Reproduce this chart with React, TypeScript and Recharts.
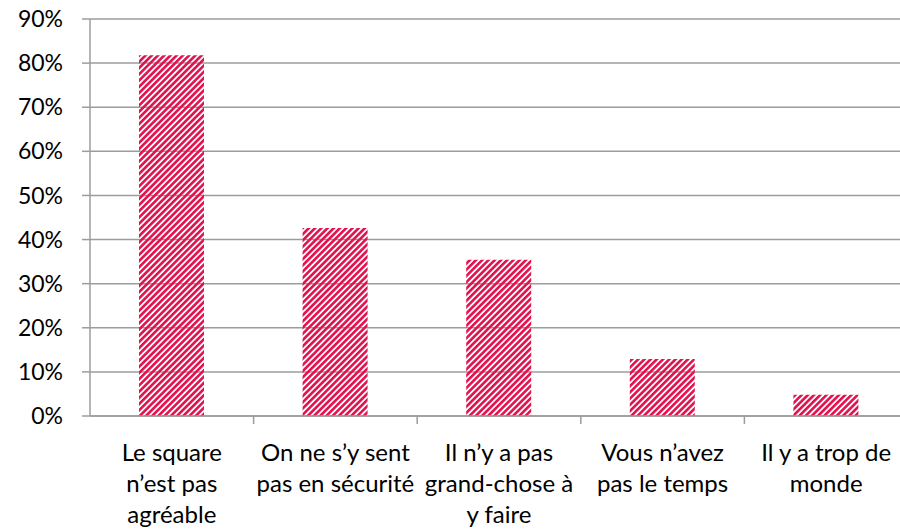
import { BarChart, Bar, XAxis, YAxis, CartesianGrid } from "recharts";

const categoryLines = [
  ["Le square", "n’est pas", "agréable"],
  ["On ne s’y sent", "pas en sécurité"],
  ["Il n’y a pas", "grand-chose à", "y faire"],
  ["Vous n’avez", "pas le temps"],
  ["Il y a trop de", "monde"],
];
const shares = [0.818, 0.426, 0.354, 0.129, 0.048];
const percentTicks = [0, 0.1, 0.2, 0.3, 0.4, 0.5, 0.6, 0.7, 0.8, 0.9];

const chartData = categoryLines.map((lines, i) => ({
  label: lines.join(" "),
  share: shares[i],
}));

const CHART_W = 908;
const Y_AXIS_W = 90;
const HALF_BAND = (CHART_W - Y_AXIS_W) / categoryLines.length / 2;

const FONT = "Lato, 'Open Sans', sans-serif";
const AXIS_GREY = "#9c9c9c";
const STRIPE = "#e2124f";

function CategoryTick(props: any) {
  const { x, y, payload } = props;
  const lines = categoryLines[payload.index] || [payload.value];
  return (
    <g>
      <line x1={x + HALF_BAND} x2={x + HALF_BAND} y1={y} y2={y + 8} stroke={AXIS_GREY} strokeWidth={1.5} />
      <text x={x} y={y} textAnchor="middle" fill="#000" fontFamily={FONT} fontSize={24}>
        {lines.map((line: string, i: number) => (
          <tspan key={i} x={x} y={y + 45 + i * 31}>
            {line}
          </tspan>
        ))}
      </text>
    </g>
  );
}

export default function App() {
  return (
    <div style={{ position: "absolute", left: 0, top: 0, width: 900, height: 530, overflow: "hidden", background: "#fff" }}>
      <BarChart
        width={CHART_W}
        height={530}
        data={chartData}
        margin={{ top: 19, right: 0, bottom: 0, left: 0 }}
      >
        <defs>
          <pattern id="stripes" patternUnits="userSpaceOnUse" width={4.4} height={4.4} patternTransform="rotate(45)">
            <rect x={0} y={0} width={2.6} height={4.4} fill={STRIPE} />
          </pattern>
        </defs>
        <CartesianGrid vertical={false} stroke={AXIS_GREY} strokeWidth={1.5} />
        <XAxis
          dataKey="label"
          height={114}
          interval={0}
          axisLine={{ stroke: AXIS_GREY, strokeWidth: 1.5 }}
          tickLine={false}
          tickSize={0}
          tickMargin={0}
          tick={<CategoryTick />}
        />
        <YAxis
          width={Y_AXIS_W}
          domain={[0, 0.9]}
          ticks={percentTicks}
          interval={0}
          tickFormatter={(v: number) => `${Math.round(v * 100)}%`}
          axisLine={{ stroke: AXIS_GREY, strokeWidth: 1.5 }}
          tickLine={{ stroke: AXIS_GREY, strokeWidth: 1.5 }}
          tickSize={8}
          tickMargin={19}
          tick={{ fill: "#000", fontFamily: FONT, fontSize: 23 }}
        />
        <Bar dataKey="share" fill="url(#stripes)" barSize={65} isAnimationActive={false} />
      </BarChart>
    </div>
  );
}
